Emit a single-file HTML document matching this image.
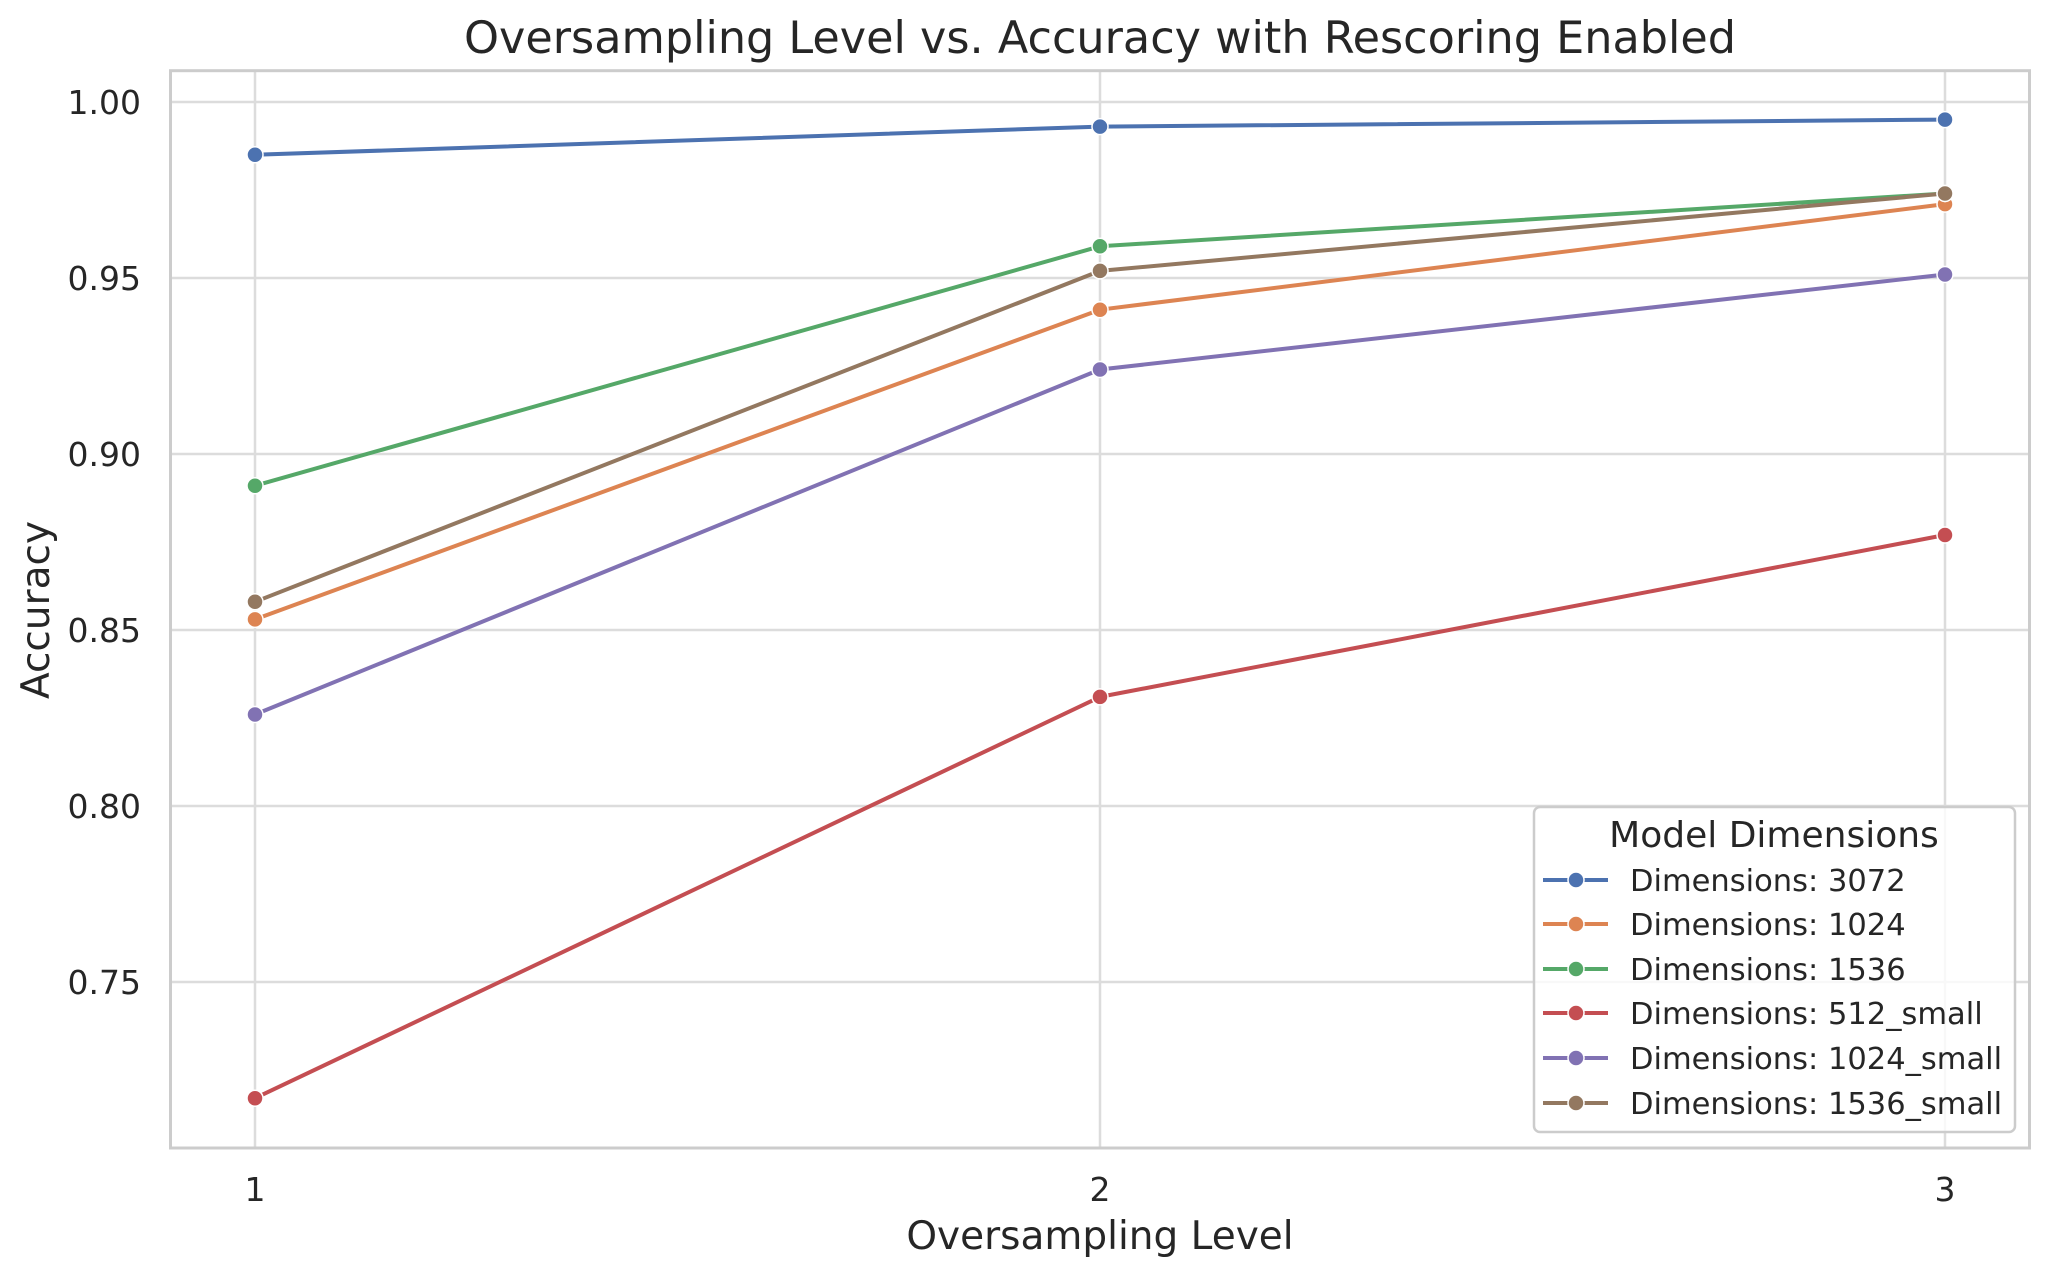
<!DOCTYPE html>
<html><head><meta charset="utf-8"><style>
html,body{margin:0;padding:0;background:#fff;}
svg{display:block;}
text{font-family:"DejaVu Sans","Liberation Sans",sans-serif;fill:#262626;}
</style></head><body>
<svg width="2050" height="1277" viewBox="0 0 2050 1277" xmlns="http://www.w3.org/2000/svg">
<rect width="2050" height="1277" fill="#fff"/>
<g stroke="#dcdcdc" stroke-width="2.5">
<line x1="170.5" y1="102" x2="2029.5" y2="102"/>
<line x1="170.5" y1="278" x2="2029.5" y2="278"/>
<line x1="170.5" y1="454" x2="2029.5" y2="454"/>
<line x1="170.5" y1="630" x2="2029.5" y2="630"/>
<line x1="170.5" y1="806" x2="2029.5" y2="806"/>
<line x1="170.5" y1="982" x2="2029.5" y2="982"/>
<line x1="255" y1="70.7" x2="255" y2="1148"/>
<line x1="1100" y1="70.7" x2="1100" y2="1148"/>
<line x1="1945" y1="70.7" x2="1945" y2="1148"/>
</g>
<rect x="170.5" y="70.7" width="1859" height="1077.3" fill="none" stroke="#cccccc" stroke-width="3"/>
<g font-size="33" text-anchor="end">
<text x="141" y="114">1.00</text>
<text x="141" y="290">0.95</text>
<text x="141" y="466">0.90</text>
<text x="141" y="642">0.85</text>
<text x="141" y="818">0.80</text>
<text x="141" y="994">0.75</text>
</g>
<g font-size="33" text-anchor="middle">
<text x="255" y="1201">1</text>
<text x="1100" y="1201">2</text>
<text x="1945" y="1201">3</text>
</g>
<text x="1100" y="1249" font-size="39" text-anchor="middle">Oversampling Level</text>
<text transform="translate(49,610) rotate(-90)" font-size="39" text-anchor="middle">Accuracy</text>
<text x="1100" y="53" font-size="44.5" text-anchor="middle">Oversampling Level vs. Accuracy with Rescoring Enabled</text>
<g fill="none" stroke-width="4" stroke-linejoin="round">
<polyline stroke="#4c72b0" points="255,154.8 1100,126.6 1945,119.6"/>
<polyline stroke="#dd8452" points="255,619.4 1100,309.7 1945,204.1"/>
<polyline stroke="#55a868" points="255,485.7 1100,246.3 1945,193.5"/>
<polyline stroke="#c44e52" points="255,1098.2 1100,696.9 1945,535"/>
<polyline stroke="#8172b3" points="255,714.5 1100,369.5 1945,274.5"/>
<polyline stroke="#937860" points="255,601.8 1100,270.9 1945,193.5"/>
</g>
<g stroke="#fff" stroke-width="1.5">
<g fill="#4c72b0"><circle cx="255" cy="154.8" r="8"/><circle cx="1100" cy="126.6" r="8"/><circle cx="1945" cy="119.6" r="8"/></g>
<g fill="#dd8452"><circle cx="255" cy="619.4" r="8"/><circle cx="1100" cy="309.7" r="8"/><circle cx="1945" cy="204.1" r="8"/></g>
<g fill="#55a868"><circle cx="255" cy="485.7" r="8"/><circle cx="1100" cy="246.3" r="8"/><circle cx="1945" cy="193.5" r="8"/></g>
<g fill="#c44e52"><circle cx="255" cy="1098.2" r="8"/><circle cx="1100" cy="696.9" r="8"/><circle cx="1945" cy="535" r="8"/></g>
<g fill="#8172b3"><circle cx="255" cy="714.5" r="8"/><circle cx="1100" cy="369.5" r="8"/><circle cx="1945" cy="274.5" r="8"/></g>
<g fill="#937860"><circle cx="255" cy="601.8" r="8"/><circle cx="1100" cy="270.9" r="8"/><circle cx="1945" cy="193.5" r="8"/></g>
</g>
<rect x="1534" y="807" width="481" height="325" rx="6" fill="#fff" fill-opacity="0.8" stroke="#cccccc" stroke-width="2.5"/>
<text x="1774" y="847" font-size="36" text-anchor="middle">Model Dimensions</text>
<g stroke-width="4">
<line x1="1543" y1="880" x2="1608" y2="880" stroke="#4c72b0"/><circle cx="1576" cy="880" r="8" fill="#4c72b0" stroke="#fff" stroke-width="1.5"/>
<line x1="1543" y1="924" x2="1608" y2="924" stroke="#dd8452"/><circle cx="1576" cy="924" r="8" fill="#dd8452" stroke="#fff" stroke-width="1.5"/>
<line x1="1543" y1="969" x2="1608" y2="969" stroke="#55a868"/><circle cx="1576" cy="969" r="8" fill="#55a868" stroke="#fff" stroke-width="1.5"/>
<line x1="1543" y1="1013" x2="1608" y2="1013" stroke="#c44e52"/><circle cx="1576" cy="1013" r="8" fill="#c44e52" stroke="#fff" stroke-width="1.5"/>
<line x1="1543" y1="1058" x2="1608" y2="1058" stroke="#8172b3"/><circle cx="1576" cy="1058" r="8" fill="#8172b3" stroke="#fff" stroke-width="1.5"/>
<line x1="1543" y1="1103" x2="1608" y2="1103" stroke="#937860"/><circle cx="1576" cy="1103" r="8" fill="#937860" stroke="#fff" stroke-width="1.5"/>
</g>
<g font-size="30.5">
<text x="1630" y="891">Dimensions: 3072</text>
<text x="1630" y="935">Dimensions: 1024</text>
<text x="1630" y="980">Dimensions: 1536</text>
<text x="1630" y="1024">Dimensions: 512_small</text>
<text x="1630" y="1069">Dimensions: 1024_small</text>
<text x="1630" y="1114">Dimensions: 1536_small</text>
</g>
</svg>
</body></html>
